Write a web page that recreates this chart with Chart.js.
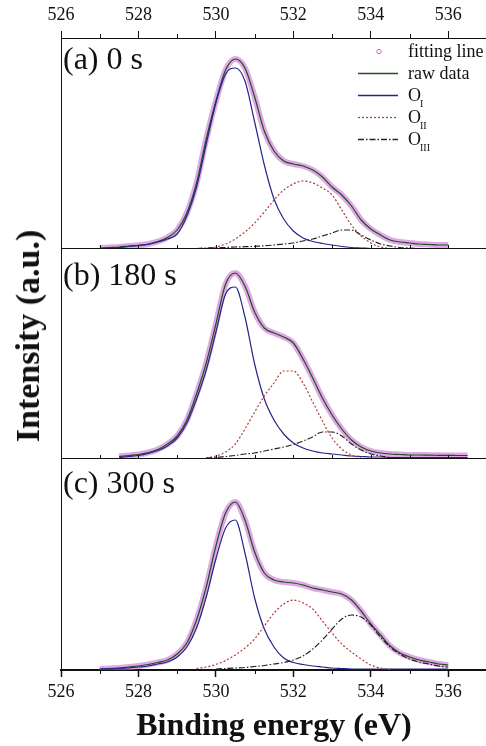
<!DOCTYPE html>
<html>
<head>
<meta charset="utf-8">
<script src="https://cdn.jsdelivr.net/npm/chart.js@4.4.1/dist/chart.umd.min.js"></script>
<style>
  html, body { margin: 0; padding: 0; background: #fff; width: 486px; height: 746px; overflow: hidden; }
  canvas { position: absolute; left: 0; }
  #ytitle {
    position: absolute; left: 28px; top: 336px;
    transform: translate(-50%, -50%) rotate(-90deg);
    font: bold 34px "Liberation Serif", serif; color: #111; white-space: nowrap;
  }
</style>
</head>
<body>
<canvas id="panelA" width="490" height="250" style="top:0"></canvas>
<canvas id="panelB" width="490" height="212" style="top:248px"></canvas>
<canvas id="panelC" width="490" height="288" style="top:458px"></canvas>
<div id="ytitle">Intensity (a.u.)</div>
<script>
// O 1s XPS fits (height above each panel baseline)
const energy = [527.00, 527.25, 527.50, 527.75, 528.00, 528.25, 528.50, 528.75, 529.00, 529.25,
  529.50, 529.75, 530.00, 530.25, 530.50, 530.75, 531.00, 531.25, 531.50, 531.75,
  532.00, 532.25, 532.50, 532.75, 533.00, 533.25, 533.50, 533.75, 534.00, 534.25,
  534.50, 534.75, 535.00, 535.25, 535.50, 535.75, 536.00, 536.25, 536.50];

const _ = null;
// (a) 0 s
const sumA = [1, 1.5, 2, 3, 3.7, 5, 7.5, 11.5, 19, 36, 66, 110, 148, 179, 190, 181, 152, 118, 98, 88,
  85, 83, 79, 72, 62, 54, 43, 29, 20, 14, 9, 7, 6, 5, 4.5, 4, 4, _, _];
const oneA = [0.5, 1, 1.5, 2.5, 3.5, 4.5, 7, 10, 15, 33, 62, 105, 146, 175, 181, 168, 127, 84, 50, 30,
  18, 11, 7.5, 5.5, 4, 2.5, 1.5, 1, 0.5, 0.5, 0.5, 0.5, 0.5, 0.5, 0.5, 0.5, 0.5, _, _];
const twoA = [_, _, _, _, _, _, _, _, _, _, _, 0.5, 2, 5, 10, 17, 26, 37, 49, 59,
  65, 68, 66, 61, 54, 39, 24, 13, 6, 2, 0.5, _, _, _, _, _, _, _, _];
const threeA = [_, _, _, _, _, _, _, _, _, _, 0.5, 1, 1.2, 1.5, 2, 2.3, 2.7, 3.2, 4, 5,
  6, 8, 10, 13, 16, 19, 19, 14, 9, 5, 3, 1.5, 1, 0.5, _, _, _, _, _];
// (b) 180 s
const sumB = [_, _, 2.5, 3.5, 4.5, 6.5, 9.5, 15, 23, 39, 65, 96, 135, 175, 186, 173, 147, 131, 126, 122,
  116, 100, 81, 61, 44, 30, 19, 12, 8, 6, 5, 4.5, 4, 4, 3.8, 3.7, 3.6, 3.5, 3.5];
const oneB = [_, _, 1.5, 2.5, 3.5, 5.5, 8.5, 13, 21, 36, 60, 89, 127, 165, 172, 142, 95, 60, 39, 25,
  16, 11, 8, 6, 5, 4, 3, 2.5, 2, 2, 1.5, 1.5, 1.5, 1.5, 1.5, 1.5, 1.5, 1.5, 1.5];
const twoB = [_, _, _, _, _, _, _, _, _, _, _, 1, 3, 7, 15, 30, 47, 63, 76, 88,
  88, 76, 57, 38, 21, 10, 4, 1.5, _, _, _, _, _, _, _, _, _, _, _];
const threeB = [_, _, _, _, _, _, _, _, _, _, _, 1, 1.5, 2.5, 3.5, 5, 6, 8, 10, 12,
  14.5, 18, 22, 27, 27, 23, 15, 9, 5, 3, 1.5, 1, _, _, _, _, _, _, _];
// (c) 300 s
const sumC = [1, 1.5, 2, 3, 4, 5.5, 7.5, 10, 16, 27, 50, 83, 124, 157, 168, 150, 118, 97, 90, 88,
  87, 85, 82, 80, 78, 76, 70, 59, 46, 35, 24, 17, 13, 10, 8, 6, 5, _, _];
const oneC = [1, 1.2, 1.6, 2.2, 3, 4, 6, 8, 13, 23, 42, 73, 111, 142, 150, 117, 72, 41, 23, 12,
  7.5, 5.5, 4, 3, 2, 1.5, 1, 1, 1, 1, 1, 1, 1, 1, 1, 1, 1, _, _];
const twoC = [_, _, _, _, _, _, _, _, _, _, 1.5, 3, 5.5, 9.5, 15, 22, 31, 44, 57, 66,
  70, 67, 61, 49, 37, 26, 18, 11, 5, 2, 0.5, _, _, _, _, _, _, _, _];
const threeC = [_, _, _, _, _, _, _, _, _, _, _, _, 1, 1.5, 2, 2.5, 3.5, 4.5, 6, 7.5,
  10, 14, 21, 30, 41, 51, 55, 53, 45, 33, 23, 16, 11, 8, 6, 4, 3, _, _];

const seriesNames = ['fitting line', 'raw data', 'O_I', 'O_II', 'O_III'];
const panelLabels = ['(a) 0 s', '(b) 180 s', '(c) 300 s'];
const xMin = 526, xMax = 537, xStep = 2;

const SERIF = '"Liberation Serif", "Times New Roman", serif';
const INK = '#111';
const COLORS = ['rgba(205, 110, 215, 0.6)', '#1f4f1f', '#24248a', '#b23a3a', '#222'];
const DASHES = [[], [], [], [2, 2], [6, 2, 1.5, 2]];

function pts(values) {
  return energy.map((x, i) => ({ x, y: values[i] }));
}

function makeDatasets(series) {
  return series.map((vals, i) => ({
    label: seriesNames[i],
    data: pts(vals),
    borderColor: COLORS[i],
    borderWidth: i === 0 ? 6 : 1.2,
    borderDash: DASHES[i],
    marker: i === 0 ? 'circle' : 'line',
    order: i === 0 ? 10 : 5 - i,
    pointRadius: 0,
    fill: false,
    spanGaps: false,
    cubicInterpolationMode: 'monotone',
  }));
}

// frame pieces Chart.js does not draw: minor ticks, panel separators, labels, legend
const axisExtras = {
  id: 'axisExtras',
  afterDraw(chart, args, o) {
    const { ctx, chartArea: { left, right, top, bottom }, scales: { x } } = chart;
    const seg = (x1, y1, x2, y2) => { ctx.beginPath(); ctx.moveTo(x1, y1); ctx.lineTo(x2, y2); ctx.stroke(); };
    ctx.save();
    ctx.strokeStyle = INK;
    ctx.lineWidth = 1;
    for (let v = Math.ceil(x.min); v <= x.max; v++) {
      const px = Math.round(x.getPixelForValue(v)) + 0.5;
      if (o.minorTop && v % 2) seg(px, top, px, top - 4);
      if (o.minorBottom && v % 2) seg(px, bottom, px, bottom + 4);
      if (o.innerBottom) seg(px, bottom, px, bottom - 4);
    }
    if (o.bottomLine) seg(left, Math.round(bottom) - 0.5, right, Math.round(bottom) - 0.5);

    ctx.fillStyle = INK;
    ctx.textBaseline = 'alphabetic';
    ctx.font = `32px ${SERIF}`;
    ctx.fillText(o.label, left + 2, top + o.labelDy);

    if (o.legend) {
      const tx = right - 79;
      chart.data.datasets.forEach((ds, i) => {
        const yb = top + 19 + i * 22;
        const ym = yb - 5.5;
        ctx.strokeStyle = ds.borderColor;
        if (ds.marker === 'circle') {
          ctx.lineWidth = 1;
          ctx.setLineDash([]);
          ctx.strokeStyle = '#c070c0';
          ctx.beginPath(); ctx.arc(right - 108, ym, 2.2, 0, Math.PI * 2); ctx.stroke();
        } else {
          ctx.lineWidth = 1.3;
          ctx.setLineDash(ds.borderDash);
          seg(right - 129, ym, right - 89, ym);
        }
        ctx.setLineDash([]);
        const [main, sub] = ds.label.split('_');
        ctx.font = `18px ${SERIF}`;
        ctx.fillStyle = INK;
        ctx.fillText(main, tx, yb);
        if (sub) {
          const w = ctx.measureText(main).width;
          ctx.font = `10px ${SERIF}`;
          ctx.fillText(sub, tx + w - 1, yb + 6);
        }
      });
    }
    ctx.restore();
  },
};

function makePanel(id, series, yMax, xAxis, extras, padding) {
  return new Chart(document.getElementById(id), {
    type: 'line',
    data: { datasets: makeDatasets(series) },
    plugins: [axisExtras],
    options: {
      responsive: false,
      animation: false,
      layout: { padding },
      plugins: { legend: { display: false }, tooltip: { enabled: false }, axisExtras: extras },
      scales: {
        x: Object.assign({ type: 'linear', min: xMin, max: xMax }, xAxis),
        y: {
          min: 0, max: yMax,
          ticks: { display: false },
          grid: { display: false, drawTicks: false },
          border: { display: true, color: INK, width: 1 },
          afterFit: (s) => { s.width = 0; },
        },
      },
    },
  });
}

const tickFont = { family: SERIF, size: 18 };

makePanel('panelA', [sumA, sumA, oneA, twoA, threeA], 211, {
  position: 'top',
  ticks: { stepSize: xStep, includeBounds: false, autoSkip: false, maxRotation: 0, padding: 5, color: INK, font: tickFont },
  grid: { drawOnChartArea: false, tickLength: 7, tickColor: INK },
  border: { color: INK, width: 1 },
  afterFit: (s) => { s.height = 38; },
}, { minorTop: true, innerBottom: true, bottomLine: true, label: panelLabels[0], labelDy: 31, legend: true },
{ left: 61, right: 3, top: 0, bottom: 1 });

makePanel('panelB', [sumB, sumB, oneB, twoB, threeB], 210, {
  display: false,
}, { innerBottom: true, bottomLine: true, label: panelLabels[1], labelDy: 36 },
{ left: 61, right: 3, top: 1, bottom: 1 });

makePanel('panelC', [sumC, sumC, oneC, twoC, threeC], 211, {
  position: 'bottom',
  ticks: { stepSize: xStep, includeBounds: false, autoSkip: false, maxRotation: 0, padding: 4, color: INK, font: tickFont },
  grid: { drawOnChartArea: false, tickLength: 7, tickColor: INK, tickWidth: 1.5 },
  border: { color: INK, width: 2 },
  title: { display: true, text: 'Binding energy (eV)', color: INK, padding: 0, font: { family: SERIF, size: 32, weight: 'bold' } },
  afterFit: (s) => { s.height = 76; },
}, { minorBottom: true, label: panelLabels[2], labelDy: 34 },
{ left: 61, right: 3, top: 1, bottom: 0 });
</script>
</body>
</html>
